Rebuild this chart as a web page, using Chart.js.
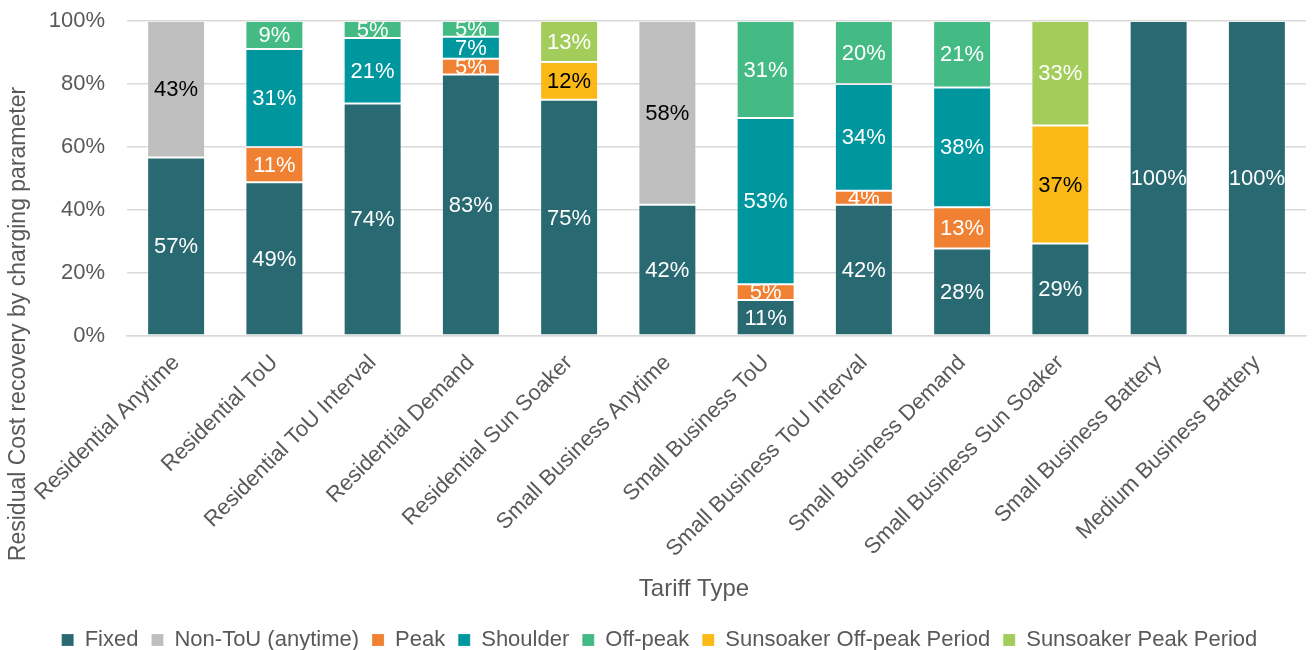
<!DOCTYPE html>
<html>
<head>
<meta charset="utf-8">
<script src="https://cdn.jsdelivr.net/npm/chart.js@4"></script>
<style>
  html, body { margin: 0; padding: 0; background: #fff; }
  #wrap { width: 1312px; height: 650px; position: relative; }
</style>
</head>
<body>
<div id="wrap"><canvas id="chart"></canvas></div>
<script>
const CATEGORIES = [
  'Residential Anytime', 'Residential ToU', 'Residential ToU Interval', 'Residential Demand',
  'Residential Sun Soaker', 'Small Business Anytime', 'Small Business ToU',
  'Small Business ToU Interval', 'Small Business Demand', 'Small Business Sun Soaker',
  'Small Business Battery', 'Medium Business Battery',
];

// share of residual cost recovery (%)
const FIXED       = [56.7, 48.8, 73.8, 83.0, 75.0, 41.7, 11.4, 41.7, 27.8, 29.4, 100, 100];
const NON_TOU     = [43.3, 0, 0, 0, 0, 58.3, 0, 0, 0, 0, 0, 0];
const PEAK        = [0, 11.2, 0, 5.0, 0, 0, 5.0, 4.4, 13.1, 0, 0, 0];
const SHOULDER    = [0, 31.1, 20.8, 7.0, 0, 0, 52.8, 33.9, 38.0, 0, 0, 0];
const OFF_PEAK    = [0, 8.9, 5.4, 5.0, 0, 0, 30.8, 20.0, 21.1, 0, 0, 0];
const SS_OFF_PEAK = [0, 0, 0, 0, 12.0, 0, 0, 0, 0, 37.4, 0, 0];
const SS_PEAK     = [0, 0, 0, 0, 13.0, 0, 0, 0, 0, 33.2, 0, 0];

const Y_TICKS = [0, 20, 40, 60, 80, 100];

const FONT = '"Liberation Sans", Arial, sans-serif';
const TEXT_COLOR = '#595959';
const GRID_COLOR = '#D9D9D9';

function series(label, data, color, labelColor) {
  return {
    label,
    data,
    backgroundColor: color,
    borderColor: 'rgba(255,255,255,0.15)',
    borderWidth: 1,
    borderSkipped: false,
    labelColor,
  };
}

// draws the value inside each bar segment
const segmentLabels = {
  id: 'segmentLabels',
  afterDatasetsDraw(chart) {
    const { ctx } = chart;
    ctx.save();
    ctx.font = '22px ' + FONT;
    ctx.textAlign = 'center';
    ctx.textBaseline = 'middle';
    chart.data.datasets.forEach((ds, i) => {
      const meta = chart.getDatasetMeta(i);
      meta.data.forEach((bar, j) => {
        const v = ds.data[j];
        if (!v) return;
        ctx.fillStyle = ds.labelColor;
        ctx.fillText(Math.round(v) + '%', bar.x, (bar.y + bar.base) / 2 + 1);
      });
    });
    ctx.restore();
  },
};

// axis titles placed like the original
const axisTitles = {
  id: 'axisTitles',
  afterDraw(chart) {
    const { ctx } = chart;
    ctx.save();
    ctx.fillStyle = TEXT_COLOR;
    ctx.textAlign = 'center';
    ctx.textBaseline = 'middle';
    ctx.font = '24px ' + FONT;
    ctx.fillText('Tariff Type', 694, 589);
    ctx.font = '23px ' + FONT;
    ctx.translate(19, 324);
    ctx.rotate(-Math.PI / 2);
    ctx.fillText('Residual Cost recovery by charging parameter', 0, 0);
    ctx.restore();
  },
};

new Chart(document.getElementById('chart'), {
  type: 'bar',
  data: {
    labels: CATEGORIES,
    datasets: [
      series('Fixed', FIXED, '#286972', '#ffffff'),
      series('Non-ToU (anytime)', NON_TOU, '#BFBFBF', '#000000'),
      series('Peak', PEAK, '#F08132', '#ffffff'),
      series('Shoulder', SHOULDER, '#00969E', '#ffffff'),
      series('Off-peak', OFF_PEAK, '#44BB84', '#ffffff'),
      series('Sunsoaker Off-peak Period', SS_OFF_PEAK, '#FBB918', '#000000'),
      series('Sunsoaker Peak Period', SS_PEAK, '#A2CD5A', '#ffffff'),
    ],
  },
  options: {
    responsive: true,
    maintainAspectRatio: false,
    animation: false,
    datasets: { bar: { categoryPercentage: 1, barPercentage: 0.59 } },
    layout: { padding: { left: 13, right: 6, top: 0, bottom: -11 } },
    plugins: {
      tooltip: { enabled: false },
      legend: {
        position: 'bottom',
        labels: {
          font: { family: FONT, size: 22 },
          color: TEXT_COLOR,
          boxWidth: 12,
          boxHeight: 12,
          padding: 13,
        },
      },
    },
    scales: {
      x: {
        stacked: true,
        grid: { display: false, drawTicks: false },
        border: { color: GRID_COLOR, width: 1.5 },
        ticks: {
          font: { family: FONT, size: 22 },
          color: TEXT_COLOR,
          minRotation: 45,
          maxRotation: 45,
          autoSkip: false,
          padding: 14,
        },
        afterFit: s => { s.height = 280; },
      },
      y: {
        stacked: true,
        min: 0,
        max: 100,
        afterBuildTicks: s => { s.ticks = Y_TICKS.map(v => ({ value: v })); },
        grid: { color: GRID_COLOR, lineWidth: 1.5, drawTicks: false },
        border: { display: false },
        ticks: {
          font: { family: FONT, size: 22 },
          color: TEXT_COLOR,
          padding: 22,
          callback: v => v + '%',
        },
        afterFit: s => {
          s.width = 114;
          s.paddingTop = 21;
          s.paddingBottom = 0;
        },
      },
    },
  },
  plugins: [segmentLabels, axisTitles],
});
</script>
</body>
</html>
